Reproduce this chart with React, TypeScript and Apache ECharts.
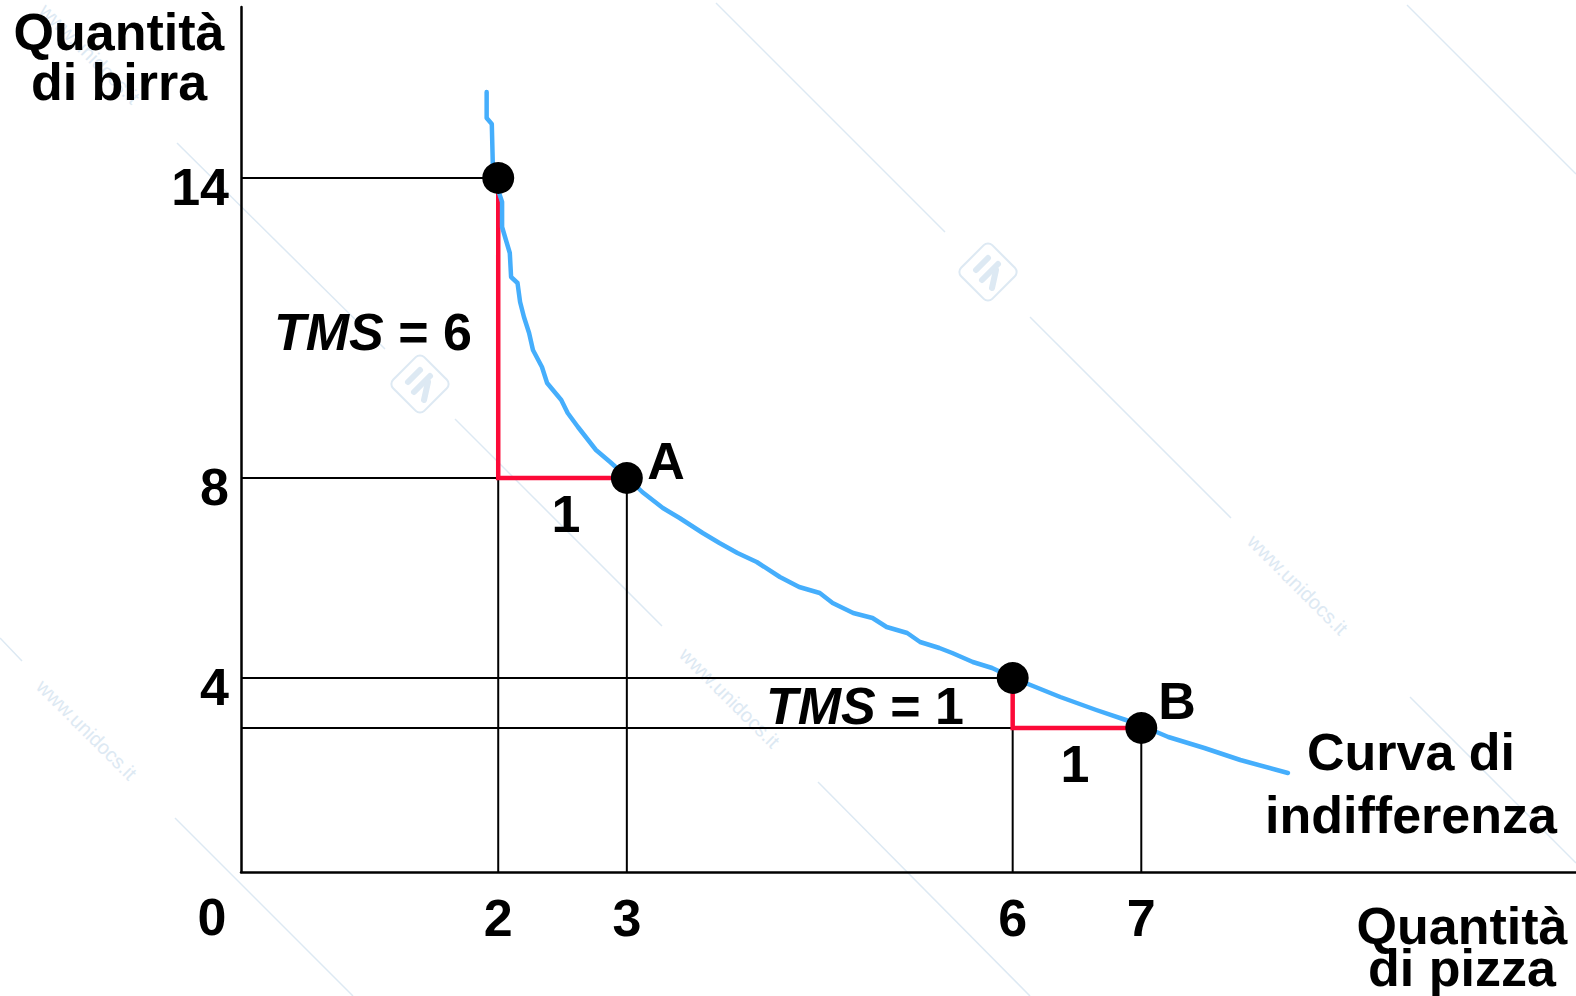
import React, { useEffect, useRef } from "react";
import * as echarts from "echarts";

// ---- data ----
const X_TICKS = [2, 3, 6, 7];
const Y_TICKS = [3, 4, 8, 14];
const POINTS: [number, number][] = [
  [2, 14],
  [3, 8],
  [6, 4],
  [7, 3],
];
const RED_STEPS: [number, number][][] = [
  [[2, 14], [2, 8], [3, 8]],
  [[6, 4], [6, 3], [7, 3]],
];
const CURVE: [number, number][] = [
  [1.91, 15.72], [1.91, 15.2], [1.95, 15.08], [1.96, 14.06], [2.03, 13.52],
  [2.03, 13.02], [2.09, 12.5], [2.1, 12.02], [2.15, 11.9], [2.17, 11.52],
  [2.2, 11.22], [2.24, 10.9], [2.27, 10.56], [2.34, 10.22], [2.38, 9.9],
  [2.49, 9.56], [2.54, 9.3], [2.62, 9.02], [2.76, 8.56], [2.87, 8.32],
  [3.0, 8.02], [3.12, 7.72], [3.28, 7.4], [3.41, 7.2], [3.59, 6.9],
  [3.72, 6.7], [3.86, 6.5], [4.01, 6.32], [4.19, 6.02], [4.34, 5.82],
  [4.5, 5.7], [4.6, 5.5], [4.76, 5.3], [4.91, 5.2], [5.02, 5.02],
  [5.18, 4.9], [5.28, 4.72], [5.43, 4.6], [5.53, 4.5], [5.69, 4.32],
  [5.84, 4.2], [5.99, 4.02], [6.1, 3.9], [6.37, 3.62], [6.65, 3.36],
  [6.88, 3.16], [6.99, 3.06], [7.21, 2.82], [7.49, 2.6], [7.77, 2.36],
  [8.14, 2.1],
];
const X_MIN = 0;
const X_MAX = 10.38;
const Y_MIN = 0.12;
const Y_MAX = 17.42;

const FONT = '"Liberation Sans", Arial, sans-serif';
const BLUE = "#45aefc";
const RED = "#fc0a38";
const WM = "#dde9f3";

function txt(text: string, x: number, y: number, align: string = "left", extra: any = {}) {
  return {
    type: "text",
    x,
    y,
    z: 100,
    style: {
      text,
      fontSize: 52,
      fontWeight: "bold",
      fontFamily: FONT,
      fill: "#000",
      align,
      verticalAlign: "middle",
      ...extra,
    },
  };
}

function wmLine(x1: number, y1: number, x2: number, y2: number) {
  return {
    type: "line",
    z: 0,
    silent: true,
    shape: { x1, y1, x2, y2 },
    style: { stroke: WM, lineWidth: 1.5 },
  };
}

function wmText(x: number, y: number) {
  return {
    type: "text",
    x,
    y,
    z: 0,
    rotation: -Math.PI / 4,
    silent: true,
    style: {
      text: "www.unidocs.it",
      fontSize: 20,
      fontFamily: FONT,
      fill: WM,
      align: "left",
      verticalAlign: "middle",
    },
  };
}

function wmLogo(x: number, y: number) {
  return {
    type: "group",
    x,
    y,
    z: 0,
    silent: true,
    children: [
      {
        type: "rect",
        rotation: Math.PI / 4,
        shape: { x: -22, y: -22, width: 44, height: 44, r: 6 },
        style: { fill: "none", stroke: WM, lineWidth: 2 },
      },
      {
        type: "line",
        shape: { x1: -12, y1: -2, x2: 0, y2: -14 },
        style: { stroke: WM, lineWidth: 6, lineCap: "round" },
      },
      {
        type: "line",
        shape: { x1: -6, y1: 8, x2: 10, y2: -8 },
        style: { stroke: WM, lineWidth: 6, lineCap: "round" },
      },
      {
        type: "line",
        shape: { x1: 8, y1: -2, x2: 4, y2: 16 },
        style: { stroke: WM, lineWidth: 6, lineCap: "round" },
      },
    ],
  };
}

export default function App() {
  const ref = useRef<HTMLDivElement>(null);

  useEffect(() => {
    if (!ref.current) return;
    const chart = echarts.init(ref.current, null, { renderer: "svg" });

    const guideSeries: any[] = [];
    POINTS.forEach(([px, py]) => {
      guideSeries.push({
        type: "line",
        data: [[X_MIN, py], [px, py]],
        showSymbol: false,
        silent: true,
        z: 2,
        lineStyle: { color: "#000", width: 2 },
      });
      guideSeries.push({
        type: "line",
        data: [[px, Y_MIN], [px, py]],
        showSymbol: false,
        silent: true,
        z: 2,
        lineStyle: { color: "#000", width: 2 },
      });
    });

    const redSeries = RED_STEPS.map((seg) => ({
      type: "line",
      data: seg,
      showSymbol: false,
      silent: true,
      z: 3,
      lineStyle: { color: RED, width: 4.5, join: "miter" },
    }));

    const option: any = {
      animation: false,
      backgroundColor: "#fff",
      grid: { left: 241, top: 7, width: 1335, height: 865, containLabel: false },
      xAxis: {
        type: "value",
        min: X_MIN,
        max: X_MAX,
        axisLine: { show: true, lineStyle: { color: "#000", width: 2.5 } },
        axisTick: { show: false },
        splitLine: { show: false },
        axisLabel: {
          customValues: X_TICKS,
          color: "#000",
          fontSize: 52,
          fontWeight: "bold",
          fontFamily: FONT,
          margin: 20,
          formatter: (v: number) => String(v),
        },
      },
      yAxis: {
        type: "value",
        min: Y_MIN,
        max: Y_MAX,
        axisLine: { show: true, lineStyle: { color: "#000", width: 2.5 } },
        axisTick: { show: false },
        splitLine: { show: false },
        axisLabel: {
          customValues: Y_TICKS,
          margin: 12,
          formatter: (v: number) => "{a|" + v + "}",
          rich: {
            a: {
              color: "#000",
              fontSize: 52,
              fontWeight: "bold",
              fontFamily: FONT,
              padding: [18, 0, 0, 0],
            },
          },
        },
      },
      series: [
        ...guideSeries,
        ...redSeries,
        {
          type: "line",
          data: CURVE,
          showSymbol: false,
          silent: true,
          z: 4,
          lineStyle: { color: BLUE, width: 4.5, cap: "round", join: "round" },
        },
        {
          type: "scatter",
          data: POINTS,
          symbol: "circle",
          symbolSize: 32,
          z: 5,
          itemStyle: { color: "#000", opacity: 1 },
        },
      ],
      graphic: [
        // watermark
        wmText(43, 7),
        wmLine(177, 143, 385, 349),
        wmLogo(420, 384),
        wmLine(455, 419, 662, 626),
        wmText(683, 651),
        wmLine(818, 782, 1030, 996),
        wmLine(716, 3, 945, 232),
        wmLogo(988, 272),
        wmLine(1030, 317, 1231, 518),
        wmText(1251, 538),
        wmLine(1410, 697, 1576, 863),
        wmLine(1407, 5, 1576, 174),
        wmLine(0, 638, 22, 661),
        wmText(40, 683),
        wmLine(175, 818, 353, 996),
        // texts
        txt("Quantità\ndi birra", 119, 57, "center", { lineHeight: 50 }),
        txt("Quantità\ndi pizza", 1462, 947, "center", { lineHeight: 42 }),
        txt("Curva di\nindifferenza", 1411, 783, "center", { lineHeight: 63 }),
        txt("0", 212, 917, "center"),
        txt("A", 666, 461, "center"),
        txt("B", 1177, 701, "center"),
        txt("1", 566, 514, "center"),
        txt("1", 1075, 764, "center"),
        {
          type: "text",
          x: 274,
          y: 332,
          z: 100,
          style: {
            text: "{i|TMS}{n| = 6}",
            align: "left",
            verticalAlign: "middle",
            rich: {
              i: { fontSize: 52, fontWeight: "bold", fontStyle: "italic", fontFamily: FONT, fill: "#000" },
              n: { fontSize: 52, fontWeight: "bold", fontFamily: FONT, fill: "#000" },
            },
          },
        },
        {
          type: "text",
          x: 766,
          y: 706,
          z: 100,
          style: {
            text: "{i|TMS}{n| = 1}",
            align: "left",
            verticalAlign: "middle",
            rich: {
              i: { fontSize: 52, fontWeight: "bold", fontStyle: "italic", fontFamily: FONT, fill: "#000" },
              n: { fontSize: 52, fontWeight: "bold", fontFamily: FONT, fill: "#000" },
            },
          },
        },
      ],
    };

    chart.setOption(option);
    return () => chart.dispose();
  }, []);

  return (
    <div
      ref={ref}
      style={{ position: "absolute", left: 0, top: 0, width: 1576, height: 996, background: "#fff" }}
    />
  );
}
